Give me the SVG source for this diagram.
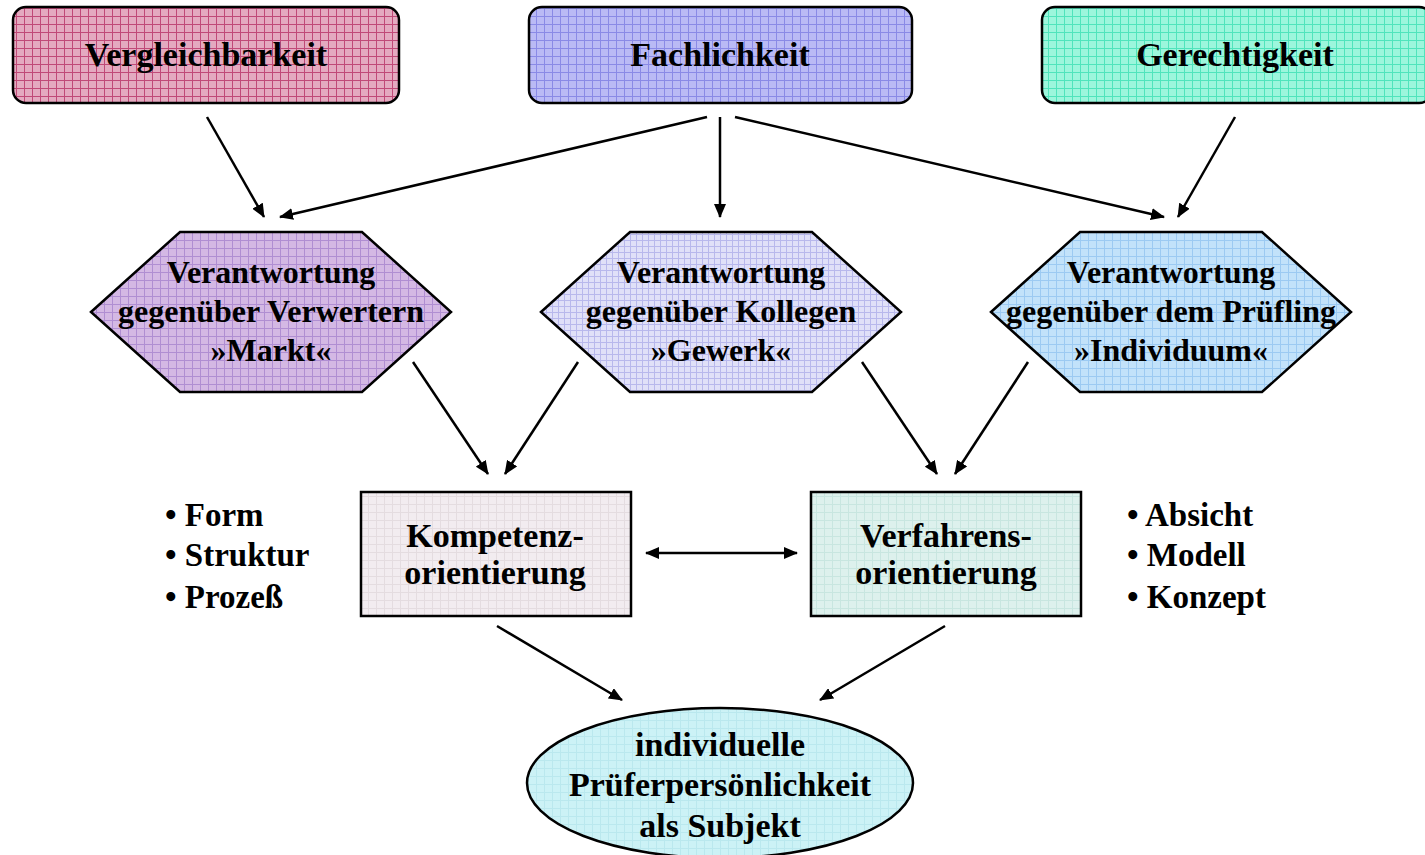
<svg xmlns="http://www.w3.org/2000/svg" width="1425" height="855" viewBox="0 0 1425 855">
<style>
text{font-family:"Liberation Serif","Times New Roman",serif;font-weight:bold;fill:#000;text-anchor:middle}
.t1{font-size:34px}
.t2{font-size:32px}
.t3{font-size:34px}
.b{font-size:33px;text-anchor:start}
.shape{stroke:#000;stroke-width:2.5}
.conn line{stroke:#000;stroke-width:2.5;marker-end:url(#ah)}
</style>
<defs>
<marker id="ah" viewBox="0 0 14 12" refX="13" refY="6" markerWidth="14" markerHeight="12" markerUnits="userSpaceOnUse" orient="auto-start-reverse"><path d="M0,0 L14,6 L0,12 z" fill="#000"/></marker>
<pattern id="pRed" width="8" height="8" patternUnits="userSpaceOnUse"><rect width="8" height="8" fill="#e4aac0"/><path d="M0,0.5H8M0.5,0V8" stroke="#c04a78" stroke-width="1"/></pattern>
<pattern id="pBlue" width="8" height="8" patternUnits="userSpaceOnUse"><rect width="8" height="8" fill="#babaf5"/><path d="M0,0.5H8M0.5,0V8" stroke="#8a8ae6" stroke-width="1"/></pattern>
<pattern id="pGreen" width="8" height="8" patternUnits="userSpaceOnUse"><rect width="8" height="8" fill="#9cf6dc"/><path d="M0,0.5H8M0.5,0V8" stroke="#50e4bc" stroke-width="1"/></pattern>
<pattern id="pLav" width="8" height="8" patternUnits="userSpaceOnUse"><rect width="8" height="8" fill="#d4b8e4"/><path d="M0,0.5H8M0.5,0V8" stroke="#b08ed2" stroke-width="1"/></pattern>
<pattern id="pPale" width="6" height="6" patternUnits="userSpaceOnUse"><rect width="6" height="6" fill="#e0e0f8"/><path d="M0,0.5H6M0.5,0V6" stroke="#b8b8ec" stroke-width="1"/></pattern>
<pattern id="pSky" width="8" height="8" patternUnits="userSpaceOnUse"><rect width="8" height="8" fill="#c2e2fa"/><path d="M0,0.5H8M0.5,0V8" stroke="#9ccaf2" stroke-width="1"/></pattern>
<pattern id="pGray" width="8" height="8" patternUnits="userSpaceOnUse"><rect width="8" height="8" fill="#f2ecf0"/><path d="M0,0.5H8M0.5,0V8" stroke="#e4dce0" stroke-width="1"/></pattern>
<pattern id="pMint" width="8" height="8" patternUnits="userSpaceOnUse"><rect width="8" height="8" fill="#ddf1ed"/><path d="M0,0.5H8M0.5,0V8" stroke="#c8e6e0" stroke-width="1"/></pattern>
<pattern id="pCyan" width="8" height="8" patternUnits="userSpaceOnUse"><rect width="8" height="8" fill="#ccf2f6"/><path d="M0,0.5H8M0.5,0V8" stroke="#bae8ee" stroke-width="1"/></pattern>
</defs>
<rect width="1425" height="855" fill="#fff"/>

<g id="vergleichbarkeit"><rect class="shape" x="13" y="7" width="386" height="96" rx="13" fill="url(#pRed)"/><text class="t1" x="206" y="66">Vergleichbarkeit</text></g>
<g id="fachlichkeit"><rect class="shape" x="529" y="7" width="383" height="96" rx="13" fill="url(#pBlue)"/><text class="t1" x="720" y="66">Fachlichkeit</text></g>
<g id="gerechtigkeit"><rect class="shape" x="1042" y="7" width="390" height="96" rx="13" fill="url(#pGreen)"/><text class="t1" x="1235" y="66">Gerechtigkeit</text></g>

<g id="markt"><polygon class="shape" points="91,312 180,232 362,232 451,312 362,392 180,392" fill="url(#pLav)"/><text class="t2" x="271" y="283">Verantwortung</text><text class="t2" x="271" y="322">gegenüber Verwertern</text><text class="t2" x="271" y="361">»Markt«</text></g>
<g id="gewerk"><polygon class="shape" points="541,312 630,232 812,232 901,312 812,392 630,392" fill="url(#pPale)"/><text class="t2" x="721" y="283">Verantwortung</text><text class="t2" x="721" y="322">gegenüber Kollegen</text><text class="t2" x="721" y="361">»Gewerk«</text></g>
<g id="individuum"><polygon class="shape" points="991,312 1080,232 1262,232 1351,312 1262,392 1080,392" fill="url(#pSky)"/><text class="t2" x="1171" y="283">Verantwortung</text><text class="t2" x="1171" y="322">gegenüber dem Prüfling</text><text class="t2" x="1171" y="361">»Individuum«</text></g>

<g id="kompetenz"><rect class="shape" x="361" y="492" width="270" height="124" fill="url(#pGray)"/><text class="t3" x="495" y="547">Kompetenz-</text><text class="t3" x="495" y="584">orientierung</text></g>
<g id="verfahren"><rect class="shape" x="811" y="492" width="270" height="124" fill="url(#pMint)"/><text class="t3" x="946" y="547">Verfahrens-</text><text class="t3" x="946" y="584">orientierung</text></g>

<g id="bullets-left"><text class="b" x="165" y="526">• Form</text><text class="b" x="165" y="566">• Struktur</text><text class="b" x="165" y="608">• Prozeß</text></g>
<g id="bullets-right"><text class="b" x="1127" y="526">• Absicht</text><text class="b" x="1127" y="566">• Modell</text><text class="b" x="1127" y="608">• Konzept</text></g>

<g id="subjekt"><ellipse class="shape" cx="720" cy="783" rx="193" ry="75" fill="url(#pCyan)"/><text class="t3" x="720" y="756">individuelle</text><text class="t3" x="720" y="796">Prüferpersönlichkeit</text><text class="t3" x="720" y="837">als Subjekt</text></g>

<g id="connectors" class="conn">
<line x1="207" y1="117" x2="264" y2="217"/>
<line x1="707" y1="117" x2="280" y2="217"/>
<line x1="720" y1="117" x2="720" y2="217"/>
<line x1="735" y1="117" x2="1164" y2="217"/>
<line x1="1235" y1="117" x2="1178" y2="217"/>
<line x1="413" y1="362" x2="488" y2="474"/>
<line x1="578" y1="362" x2="505" y2="474"/>
<line x1="862" y1="362" x2="937" y2="474"/>
<line x1="1028" y1="362" x2="955" y2="474"/>
<line x1="646" y1="553" x2="797" y2="553" style="marker-start:url(#ah)"/>
<line x1="497" y1="626" x2="622" y2="700"/>
<line x1="945" y1="626" x2="820" y2="700"/>
</g>
</svg>
